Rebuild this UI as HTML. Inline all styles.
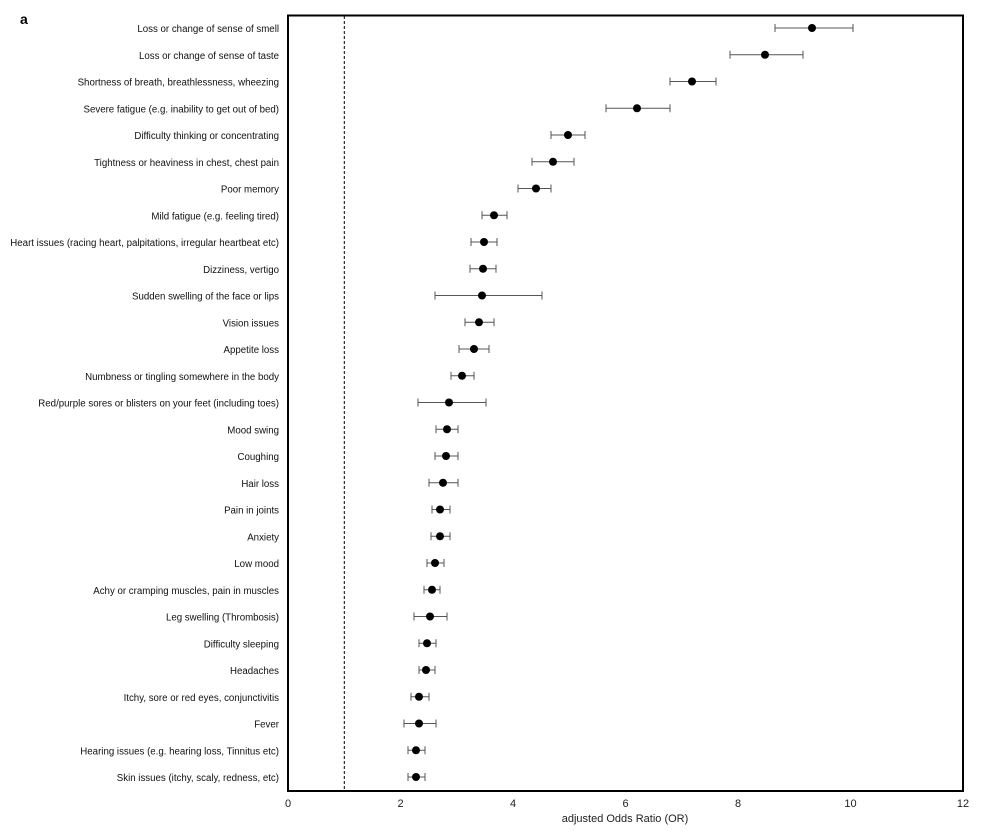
<!DOCTYPE html>
<html><head><meta charset="utf-8"><style>
html,body{margin:0;padding:0;background:#fff;}
svg{display:block;font-family:"Liberation Sans",Arial,sans-serif;}
</style></head><body>
<svg width="988" height="831" viewBox="0 0 988 831" xmlns="http://www.w3.org/2000/svg">
<text x="20" y="24" font-size="14" font-weight="bold">a</text>
<line x1="344.3" y1="16" x2="344.3" y2="791" stroke="#000" stroke-width="1" stroke-dasharray="3,2"/>
<rect x="288" y="15.5" width="675" height="775.5" fill="none" stroke="#000" stroke-width="2"/>
<g font-size="11" text-anchor="middle" fill="#222">
<text x="288" y="807">0</text><text x="400.5" y="807">2</text><text x="513" y="807">4</text><text x="625.5" y="807">6</text><text x="738" y="807">8</text><text x="850.5" y="807">10</text><text x="963" y="807">12</text>
<text x="625" y="822">adjusted Odds Ratio (OR)</text>
</g>
<g id="rows" font-size="9.7" text-anchor="end" fill="#111"></g>
<g id="pts"></g>
<script>
var d=[
["Loss or change of sense of smell",812,775,853],
["Loss or change of sense of taste",765,730,803],
["Shortness of breath, breathlessness, wheezing",692,670,716],
["Severe fatigue (e.g. inability to get out of bed)",637,606,670],
["Difficulty thinking or concentrating",568,551,585],
["Tightness or heaviness in chest, chest pain",553,532,574],
["Poor memory",536,518,551],
["Mild fatigue (e.g. feeling tired)",494,482,507],
["Heart issues (racing heart, palpitations, irregular heartbeat etc)",484,471,497],
["Dizziness, vertigo",483,470,496],
["Sudden swelling of the face or lips",482,435,542],
["Vision issues",479,465,494],
["Appetite loss",474,459,489],
["Numbness or tingling somewhere in the body",462,451,474],
["Red/purple sores or blisters on your feet (including toes)",449,418,486],
["Mood swing",447,436,458],
["Coughing",446,435,458],
["Hair loss",443,429,458],
["Pain in joints",440,432,450],
["Anxiety",440,431,450],
["Low mood",435,427,444],
["Achy or cramping muscles, pain in muscles",432,424,440],
["Leg swelling (Thrombosis)",430,414,447],
["Difficulty sleeping",427,419,436],
["Headaches",426,419,435],
["Itchy, sore or red eyes, conjunctivitis",419,411,429],
["Fever",419,404,436],
["Hearing issues (e.g. hearing loss, Tinnitus etc)",416,408,425],
["Skin issues (itchy, scaly, redness, etc)",416,408,425]];
var ns="http://www.w3.org/2000/svg",R=document.getElementById("rows"),P=document.getElementById("pts");
function el(t,a,p){var e=document.createElementNS(ns,t);for(var k in a)e.setAttribute(k,a[k]);p.appendChild(e);return e;}
d.forEach(function(r,i){var y=28+i*26.75;
var t=el("text",{x:279,y:y+4},R);t.textContent=r[0];
el("line",{x1:r[2],x2:r[3],y1:y,y2:y,stroke:"#555","stroke-width":1},P);
el("line",{x1:r[2],x2:r[2],y1:y-4,y2:y+4,stroke:"#555","stroke-width":1},P);
el("line",{x1:r[3],x2:r[3],y1:y-4,y2:y+4,stroke:"#555","stroke-width":1},P);
el("circle",{cx:r[1],cy:y,r:4,fill:"#000"},P);});
</script>
</svg>
</body></html>
